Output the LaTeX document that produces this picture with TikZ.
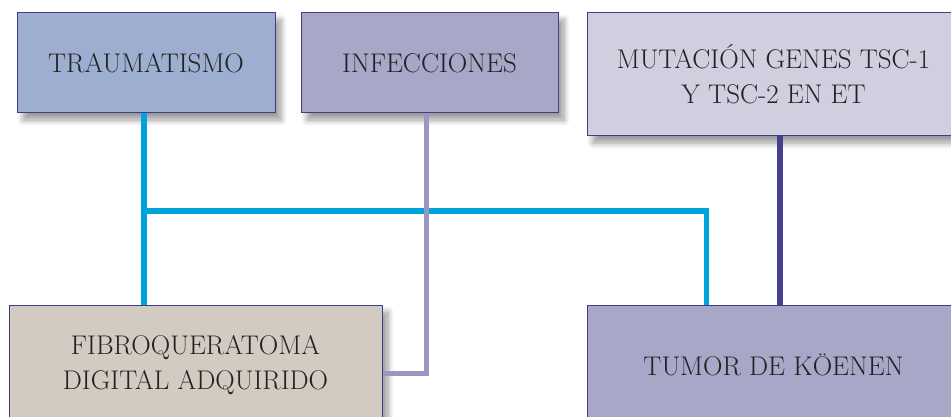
\documentclass[tikz,border=0pt]{standalone}
\usepackage{tikz}
\usetikzlibrary{shadows.blur}

\definecolor{traumafill}{HTML}{9DAED0}
\definecolor{infecfill}{HTML}{A9A7C7}
\definecolor{mutfill}{HTML}{CFCFE0}
\definecolor{fibrofill}{HTML}{D3CBC2}
\definecolor{boxline}{HTML}{3B3F85}
\definecolor{cyanline}{HTML}{00A3DC}
\definecolor{lilacline}{HTML}{9A95C2}
\definecolor{navyline}{HTML}{463F8C}
\definecolor{textgray}{HTML}{222222}

\begin{document}
\begin{tikzpicture}[x=1pt,y=-1pt,
    causebox/.style={draw=boxline,line width=1pt,text=textgray,align=center,
        inner sep=0pt,font=\fontsize{27}{35}\selectfont,
        blur shadow={shadow xshift=6pt,shadow yshift=-7pt,shadow blur steps=10,shadow blur radius=6pt,shadow opacity=40}},
    link/.style={line width=5.5pt}]
\useasboundingbox (0,0) rectangle (951,417);
% causas
\node[causebox,fill=traumafill,minimum width=258pt,minimum height=100pt] (trauma) at (146,63) {TRAUMATISMO};
\node[causebox,fill=infecfill,minimum width=257pt,minimum height=100pt] (infec) at (429.5,63) {INFECCIONES};
\node[causebox,fill=mutfill,minimum width=373pt,minimum height=123pt] (mut) at (773.5,74.5) {MUTACI\'ON GENES TSC-1\\Y TSC-2 EN ET};
% efectos
\node[causebox,fill=fibrofill,minimum width=373pt,minimum height=120pt] (fibro) at (195.5,365) {FIBROQUERATOMA\\DIGITAL ADQUIRIDO};
\node[causebox,fill=infecfill,minimum width=373pt,minimum height=120pt] (tumor) at (773.5,365) {TUMOR DE K\"OENEN};
% uniones
\coordinate (jl) at (144,211);
\coordinate (jr) at (706.5,211);
\coordinate (pc) at (426.5,373.5);
\coordinate (nc) at (780,220);
\draw[link,cyanline] (trauma.south -| jl) -- (fibro.north -| jl);
\draw[link,cyanline] (jl) -- (jr) -- (tumor.north -| jr);
\draw[link,lilacline,line width=5pt] (infec.south -| pc) |- (fibro.east |- pc);
\draw[link,navyline] (mut.south -| nc) -- (tumor.north -| nc);
\end{tikzpicture}
\end{document}
